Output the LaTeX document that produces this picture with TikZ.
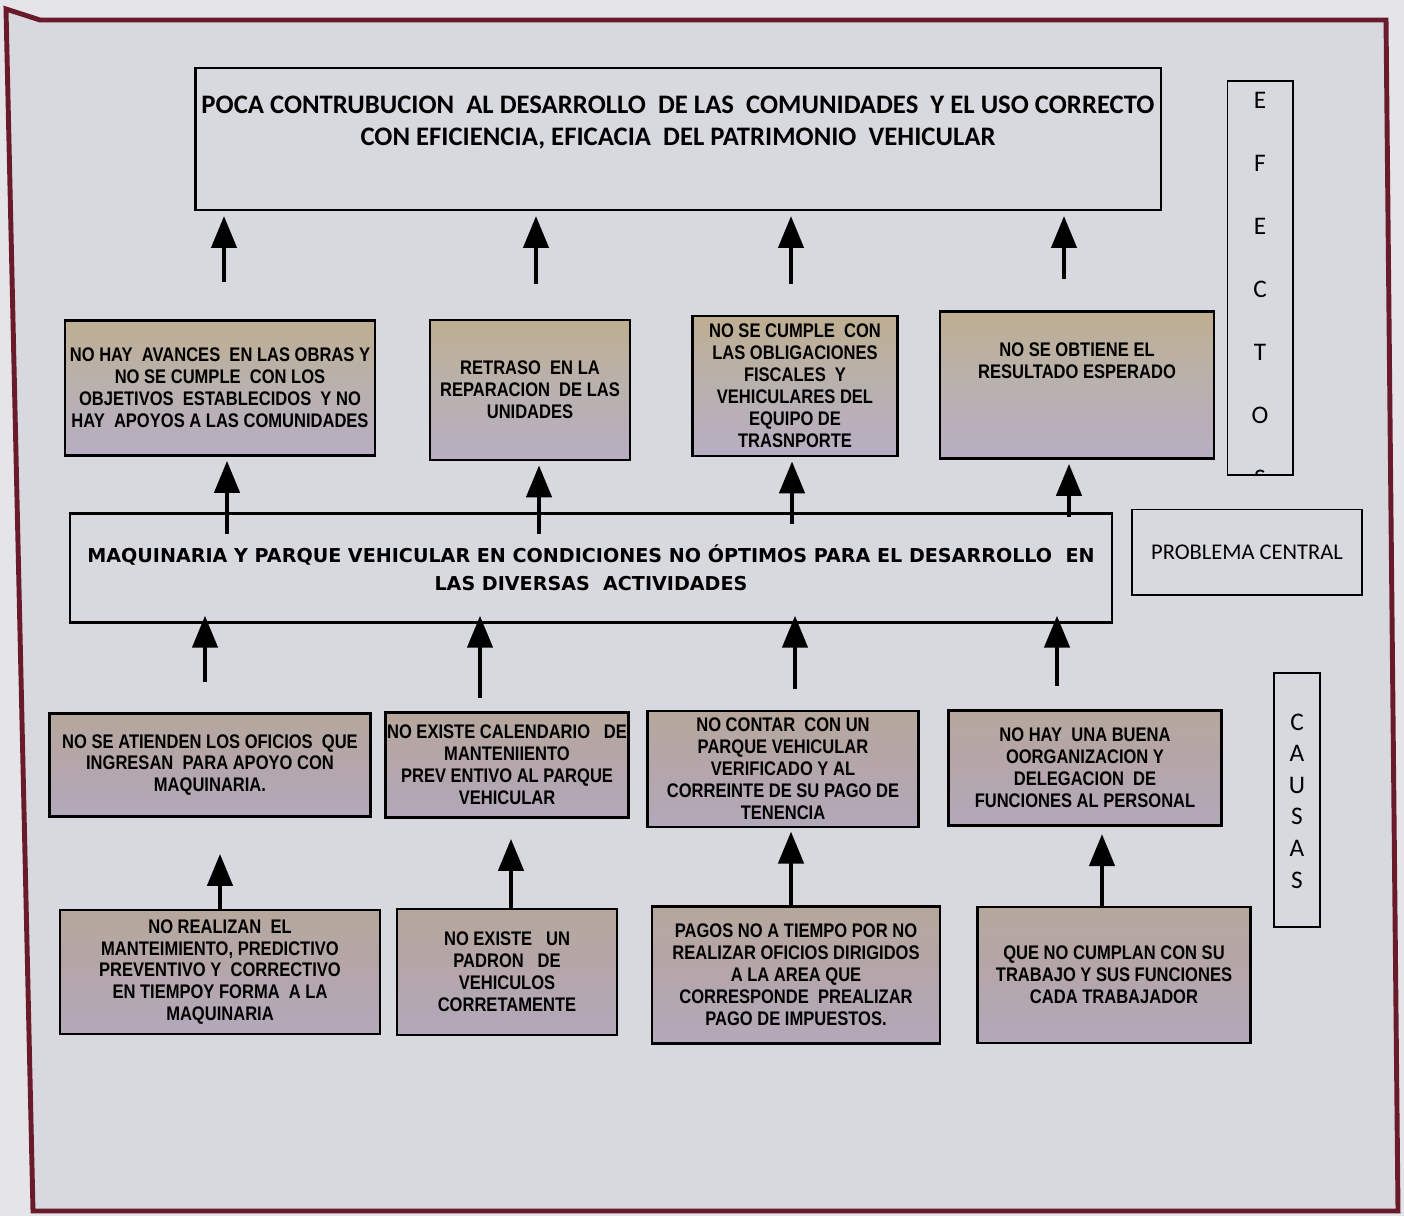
\documentclass[tikz,border=0pt]{standalone}
\usepackage{fontspec}
\setmainfont{Liberation Sans}
\newfontfamily\narrowfont[FakeStretch=0.84]{Liberation Sans}
\newfontfamily\calfont{Carlito}
\newfontfamily\heavyfont{DejaVu Sans}
\usetikzlibrary{arrows.meta,positioning,calc}

\definecolor{paper}{HTML}{D8D9DE}
\definecolor{outside}{HTML}{E5E5E9}
\definecolor{maroon}{HTML}{6A1B2B}
\definecolor{tanE}{HTML}{BEAE91}
\definecolor{grayE}{HTML}{B9B1AE}
\definecolor{lilacE}{HTML}{B8AEC3}
\definecolor{tanC}{HTML}{B6A79C}
\definecolor{grayC}{HTML}{B4A6AA}
\definecolor{lilacC}{HTML}{B2A8BA}

\tikzset{
  plainbox/.style={draw, line width=1.6pt},
  efbox/.style={draw, line width=1.8pt, top color=tanE, bottom color=lilacE,
    middle color=grayE, align=center, inner sep=1pt,
    font=\narrowfont\bfseries\fontsize{14}{15.6}\selectfont},
  causebox/.style={efbox, top color=tanC, bottom color=lilacC, middle color=grayC},
  boxtxt/.style={align=center, inner sep=0pt, font=\narrowfont\bfseries\fontsize{14}{15.6}\selectfont},
  sidebox/.style={draw, line width=1.4pt},
  sideletter/.style={font=\calfont\fontsize{18}{18}\selectfont, inner sep=0pt},
  arr/.style={line width=3.5pt, -{Triangle[length=0.8cm,width=0.62cm]}},
}

\begin{document}
\begin{tikzpicture}[x=0.025cm, y=-0.025cm]
  \useasboundingbox (0,0) rectangle (1404,1216);
  \fill[outside] (0,0) rectangle (1404,1216);
  % marco
  \filldraw[fill=paper, draw=maroon, line width=3.5pt]
    (6,9) -- (40,20) -- (1386,20) -- (1398,1211) -- (33,1211) -- cycle;

  % efecto principal
  \node[plainbox, minimum width=24.125cm, minimum height=3.55cm] (efecto) at (678,139) {};
  \node[align=center, inner sep=0pt, below=0.72cm of efecto.north,
    font=\calfont\bfseries\fontsize{19}{22.8}\selectfont] (efectotxt)
    {POCA CONTRUBUCION\ \ AL DESARROLLO\ \ DE LAS\ \ COMUNIDADES\ \ Y EL USO CORRECTO\\
     CON EFICIENCIA, EFICACIA\ \ DEL PATRIMONIO\ \ VEHICULAR};

  % efectos
  \node[efbox, minimum width=7.75cm, minimum height=3.375cm] (E1) at (220,388)
    {NO HAY\ \ AVANCES\ \ EN LAS OBRAS Y\\NO SE CUMPLE\ \ CON LOS\\OBJETIVOS\ \ ESTABLECIDOS\ \ Y NO\\HAY\ \ APOYOS A LAS COMUNIDADES};
  \node[efbox, minimum width=5cm, minimum height=3.5cm] (E2) at (530,390)
    {RETRASO\ \ EN LA\\REPARACION\ \ DE LAS\\UNIDADES};
  \node[efbox, minimum width=5.125cm, minimum height=3.5cm] (E3) at (795,386)
    {NO SE CUMPLE\ \ CON\\LAS OBLIGACIONES\\FISCALES\ \ Y\\VEHICULARES DEL\\EQUIPO DE\\TRASNPORTE};
  \node[efbox, minimum width=6.85cm, minimum height=3.675cm] (E4) at (1077,385) {};
  \node[boxtxt, below=0.8cm of E4.north] (E4txt) {NO SE OBTIENE EL\\RESULTADO ESPERADO};

  % problema central
  \node[plainbox, minimum width=26.05cm, minimum height=2.725cm, align=center,
    font=\heavyfont\bfseries\fontsize{13.6}{19.9}\selectfont] (central) at (591,568)
    {MAQUINARIA Y PARQUE VEHICULAR EN CONDICIONES NO ÓPTIMOS PARA EL DESARROLLO\ \ EN\\LAS DIVERSAS\ \ ACTIVIDADES};
  \node[sidebox, minimum width=5.75cm, minimum height=2.125cm,
    font=\calfont\fontsize{16}{18}\selectfont] (probc) at (1247,552) {PROBLEMA CENTRAL};

  % causas
  \node[causebox, minimum width=8.025cm, minimum height=2.575cm] (C1) at (210,765)
    {NO SE ATIENDEN LOS OFICIOS\ \ QUE\\INGRESAN\ \ PARA APOYO CON\\MAQUINARIA.};
  \node[causebox, minimum width=6.025cm, minimum height=2.625cm] (C2) at (507,765)
    {NO EXISTE CALENDARIO\ \ \ DE\\MANTENIIENTO\\PREV ENTIVO AL PARQUE\\VEHICULAR};
  \node[causebox, minimum width=6.775cm, minimum height=2.9cm] (C3) at (783,769)
    {NO CONTAR\ \ CON UN\\PARQUE VEHICULAR\\VERIFICADO Y AL\\CORREINTE DE SU PAGO DE\\TENENCIA};
  \node[causebox, minimum width=6.825cm, minimum height=2.875cm] (C4) at (1085,768)
    {NO HAY\ \ UNA BUENA\\OORGANIZACION Y\\DELEGACION\ \ DE\\FUNCIONES AL PERSONAL};

  \node[causebox, minimum width=8cm, minimum height=3.1cm] (D1) at (220,972)
    {NO REALIZAN\ \ EL\\MANTEIMIENTO, PREDICTIVO\\PREVENTIVO Y\ \ CORRECTIVO\\EN TIEMPOY FORMA\ \ A LA\\MAQUINARIA};
  \node[causebox, minimum width=5.5cm, minimum height=3.15cm] (D2) at (507,972)
    {NO EXISTE\ \ \ UN\\PADRON\ \ \ DE\\VEHICULOS\\CORRETAMENTE};
  \node[causebox, minimum width=7.2cm, minimum height=3.425cm] (D3) at (796,975)
    {PAGOS NO A TIEMPO POR NO\\REALIZAR OFICIOS DIRIGIDOS\\A LA AREA QUE\\CORRESPONDE\ \ PREALIZAR\\PAGO DE IMPUESTOS.};
  \node[causebox, minimum width=6.825cm, minimum height=3.4cm] (D4) at (1114,975)
    {QUE NO CUMPLAN CON SU\\TRABAJO Y SUS FUNCIONES\\CADA TRABAJADOR};

  % etiquetas laterales (la S final queda cortada por el borde)
  \node[sidebox, minimum width=1.625cm, minimum height=9.825cm,
    path picture={
      \foreach \l [count=\i] in {E,F,E,C,T,O,S}
        \node[sideletter] at (0,{-178+63*(\i-1)}) {\l};
    }] (efectos) at (1260,278) {};
  \node[sidebox, minimum width=1.15cm, minimum height=6.35cm] (causas) at (1297,800) {};
  \foreach \l [count=\i] in {C,A,U,S,A,S}
    \node[sideletter] (causa\i) at (1297,{722+31.6*(\i-1)}) {\l};

  % flechas
  \foreach \a/\dx/\g in {E1/4/0.92, E2/6/0.88, E3/-4/0.78, E4/-13/0.78}
    \draw[arr, shorten <=\g cm, shorten >=0.12cm]
      ([xshift=\dx*0.025cm]\a.north) -- ([xshift=\dx*0.025cm]\a.north |- efecto.south);
  \foreach \a/\dx/\g in {E1/7/-0.55, E2/9/-0.55, E3/-3/-0.3, E4/-8/-0.12}
    \draw[arr, shorten <=\g cm, shorten >=0.1cm]
      ([xshift=\dx*0.025cm]\a.south |- central.north) -- ([xshift=\dx*0.025cm]\a.south);
  \foreach \a/\dx/\g in {C1/-5/0.75, C2/-27/0.33, C3/12/0.53, C4/-28/0.58}
    \draw[arr, shorten <=\g cm, shorten >=-0.2cm]
      ([xshift=\dx*0.025cm]\a.north) -- ([xshift=\dx*0.025cm]\a.north |- central.south);
  \foreach \a/\b/\dx/\g in {D1/C1/0/0.9, D2/C2/4/0.5, D3/C3/-5/0.08, D4/C4/-12/0.18}
    \draw[arr, shorten >=\g cm]
      ([xshift=\dx*0.025cm]\a.north) -- ([xshift=\dx*0.025cm]\a.north |- \b.south);
\end{tikzpicture}
\end{document}
